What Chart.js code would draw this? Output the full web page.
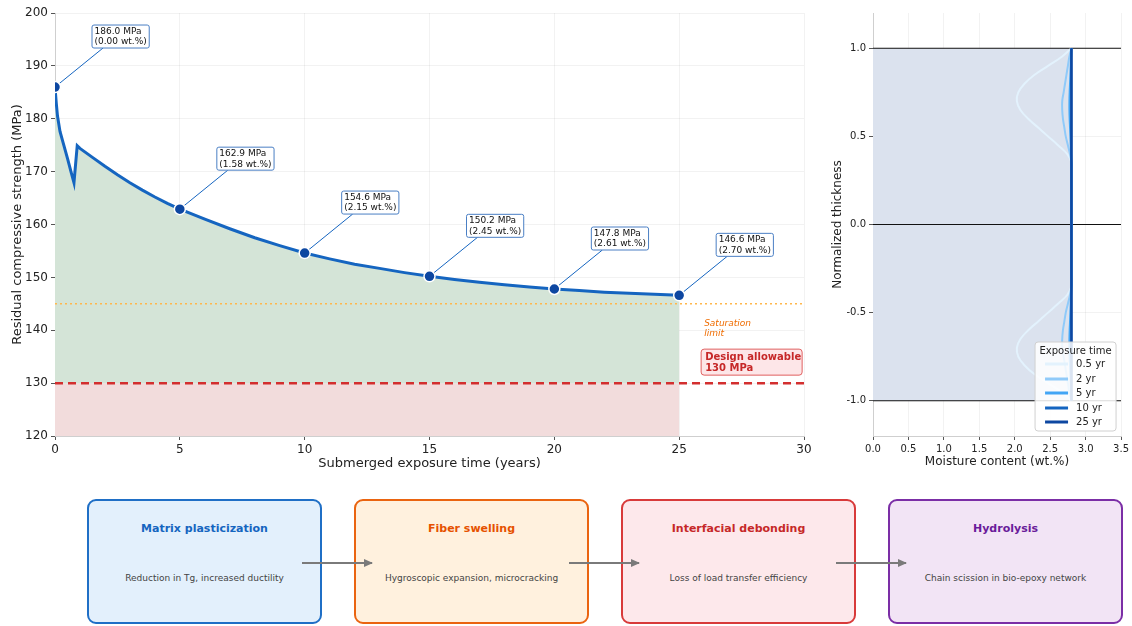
<!DOCTYPE html>
<html><head><meta charset="utf-8">
<script src="https://cdn.jsdelivr.net/npm/chart.js@4.4.0/dist/chart.umd.min.js"></script>
<style>
body{margin:0;background:#fff;width:1132px;height:626px;position:relative;overflow:hidden;font-family:'DejaVu Sans',sans-serif;}
#c1{position:absolute;left:0;top:0;}
#c2{position:absolute;left:820px;top:0;}
.box{position:absolute;top:499px;width:235px;height:125px;border:2px solid;border-radius:9px;box-sizing:border-box;text-align:center;}
.box .t{position:absolute;left:0;right:0;top:21px;font-size:11px;font-weight:bold;}
.box .d{position:absolute;left:0;right:0;top:72px;font-size:9px;color:#444;}
svg{position:absolute;left:0;top:0;}
</style></head>
<body>
<canvas id="c1" width="820" height="475"></canvas>
<canvas id="c2" width="312" height="475"></canvas>
<div class="box" style="left:87px;border-color:#1f6fc6;background:#e3f0fc;"><div class="t" style="color:#1565c0">Matrix plasticization</div><div class="d">Reduction in Tg, increased ductility</div></div>
<div class="box" style="left:354px;border-color:#ea6410;background:#fff1de;"><div class="t" style="color:#e65100">Fiber swelling</div><div class="d">Hygroscopic expansion, microcracking</div></div>
<div class="box" style="left:621px;border-color:#d83a3a;background:#fde8eb;"><div class="t" style="color:#c62828">Interfacial debonding</div><div class="d">Loss of load transfer efficiency</div></div>
<div class="box" style="left:888px;border-color:#7b2ea6;background:#f2e4f5;"><div class="t" style="color:#6a1b9a">Hydrolysis</div><div class="d">Chain scission in bio-epoxy network</div></div>
<svg width="1132" height="626">
<defs><marker id="ah" markerWidth="9" markerHeight="8" refX="8" refY="4" orient="auto" markerUnits="userSpaceOnUse"><path d="M0,0 L9,4 L0,8 z" fill="#7a7a7a"/></marker></defs>
<line x1="302" y1="563" x2="372" y2="563" stroke="#7a7a7a" stroke-width="2" marker-end="url(#ah)"/>
<line x1="569" y1="563" x2="639" y2="563" stroke="#7a7a7a" stroke-width="2" marker-end="url(#ah)"/>
<line x1="836" y1="563" x2="906" y2="563" stroke="#7a7a7a" stroke-width="2" marker-end="url(#ah)"/>
</svg>
<script>
// ---------- data: main chart ----------
const curveT = [0,0.05,0.1,0.2,0.33,0.5,0.65,0.76,0.89,1.0,1.5,2,2.5,3,3.5,4,4.5,5,6,7,8,9,10,11,12,13,14,15,16,17,18,19,20,21,22,23,24,25];
const curveS = [186.0,183.0,180.5,177.6,175.4,172.5,169.8,167.9,174.9,174.4,172.7,171.0,169.4,167.9,166.5,165.2,164.0,162.9,161.0,159.2,157.5,156.0,154.6,153.5,152.5,151.7,150.9,150.2,149.6,149.1,148.6,148.2,147.8,147.5,147.2,147.0,146.8,146.6];
const markerT = [0,5,10,15,20,25];
const markerS = [186.0,162.9,154.6,150.2,147.8,146.6];
const markerM = [0.00,1.58,2.15,2.45,2.61,2.70];
const designAllowable = 130;
const saturationLevel = 145;
const xTicksMain = [0,5,10,15,20,25,30];
const yTicksMain = [120,130,140,150,160,170,180,190,200];

// ---------- data: moisture profiles ----------
const thickness = [1.0,0.95,0.9,0.85,0.8,0.75,0.7,0.65,0.6,0.55,0.5,0.45,0.4,0.35,0.3,0.0,-0.3,-0.35,-0.4,-0.45,-0.5,-0.55,-0.6,-0.65,-0.7,-0.75,-0.8,-0.85,-0.9,-0.95,-1.0];
const prof05 = [2.80,2.66,2.47,2.28,2.14,2.05,2.03,2.08,2.19,2.33,2.47,2.61,2.74,2.80,2.80,2.80,2.80,2.80,2.74,2.61,2.47,2.33,2.19,2.08,2.03,2.05,2.14,2.28,2.47,2.66,2.80];
const prof2  = [2.80,2.77,2.75,2.73,2.71,2.69,2.67,2.67,2.68,2.70,2.72,2.75,2.78,2.80,2.80,2.80,2.80,2.80,2.78,2.75,2.72,2.70,2.68,2.67,2.67,2.69,2.71,2.73,2.75,2.77,2.80];
const prof5  = [2.80,2.795,2.79,2.785,2.78,2.775,2.772,2.772,2.775,2.78,2.785,2.79,2.795,2.80,2.80,2.80,2.80,2.80,2.795,2.79,2.785,2.78,2.775,2.772,2.772,2.775,2.78,2.785,2.79,2.795,2.80];
const prof10 = [2.80,2.80,2.80,2.80,2.80,2.80,2.80,2.80,2.80,2.80,2.80,2.80,2.80,2.80,2.80,2.80,2.80,2.80,2.80,2.80,2.80,2.80,2.80,2.80,2.80,2.80,2.80,2.80,2.80,2.80,2.80];
const prof25 = [2.80,2.80,2.80,2.80,2.80,2.80,2.80,2.80,2.80,2.80,2.80,2.80,2.80,2.80,2.80,2.80,2.80,2.80,2.80,2.80,2.80,2.80,2.80,2.80,2.80,2.80,2.80,2.80,2.80,2.80,2.80];
const profLabels = ['0.5 yr','2 yr','5 yr','10 yr','25 yr'];
const profColors = ['#e3f2fd','#90caf9','#42a5f5','#1565c0','#0d47a1'];
const profiles = [prof05,prof2,prof5,prof10,prof25];
const refLevels = [1,0,-1];
const xTicksProf = [0,0.5,1,1.5,2,2.5,3,3.5];
const yTicksProf = [-1,-0.5,0,0.5,1];

const FONT = "'DejaVu Sans', sans-serif";
Chart.defaults.font.family = FONT;
Chart.defaults.color = '#222';
Chart.defaults.animation = false;

function rrect(ctx,x,y,w,h,r){ctx.beginPath();ctx.moveTo(x+r,y);ctx.lineTo(x+w-r,y);ctx.quadraticCurveTo(x+w,y,x+w,y+r);ctx.lineTo(x+w,y+h-r);ctx.quadraticCurveTo(x+w,y+h,x+w-r,y+h);ctx.lineTo(x+r,y+h);ctx.quadraticCurveTo(x,y+h,x,y+h-r);ctx.lineTo(x,y+r);ctx.quadraticCurveTo(x,y,x+r,y);ctx.closePath();}

const annot = {
  id:'annot',
  beforeDatasetsDraw(chart){
    const ctx=chart.ctx, xs=chart.scales.x, ys=chart.scales.y;
    ctx.save(); ctx.strokeStyle='#1565c0'; ctx.lineWidth=1;
    markerT.forEach((t,i)=>{
      const px=xs.getPixelForValue(t), py=ys.getPixelForValue(markerS[i]);
      ctx.beginPath(); ctx.moveTo(px,py); ctx.lineTo(px+48,py-39); ctx.stroke();
    });
    ctx.restore();
  },
  afterDatasetsDraw(chart){
    const ctx=chart.ctx, xs=chart.scales.x, ys=chart.scales.y;
    ctx.save();
    ctx.font='9px '+FONT; ctx.textBaseline='middle'; ctx.textAlign='left';
    markerT.forEach((t,i)=>{
      const px=xs.getPixelForValue(t), py=ys.getPixelForValue(markerS[i]);
      const l1=markerS[i].toFixed(1)+' MPa', l2='('+markerM[i].toFixed(2)+' wt.%)';
      const w=Math.max(ctx.measureText(l1).width,ctx.measureText(l2).width)+5;
      const bx=px+37, by=py-39-23;
      rrect(ctx,bx,by,w,23,2); ctx.fillStyle='#fff'; ctx.fill();
      ctx.strokeStyle='#4a7fc4'; ctx.lineWidth=1; ctx.stroke();
      ctx.fillStyle='#111'; ctx.fillText(l1,bx+2.5,by+6.5); ctx.fillText(l2,bx+2.5,by+17);
    });
    // saturation label
    const sx=xs.getPixelForValue(26), sy=ys.getPixelForValue(saturationLevel);
    ctx.font='italic 9px '+FONT; ctx.fillStyle='#ef6c00';
    ctx.fillText('Saturation',sx,sy+20); ctx.fillText('limit',sx,sy+30);
    // design allowable box
    const dy=ys.getPixelForValue(designAllowable);
    const bx=sx-3, by=dy-34;
    rrect(ctx,bx,by,101,26,3); ctx.fillStyle='#fde6e8'; ctx.fill();
    ctx.strokeStyle='#e06060'; ctx.lineWidth=1; ctx.stroke();
    ctx.font='bold 10px '+FONT; ctx.fillStyle='#c62828';
    ctx.fillText('Design allowable',bx+4,by+8); ctx.fillText(designAllowable+' MPa',bx+4,by+19);
    ctx.restore();
  }
};

const tickFont12={size:12,family:FONT};
new Chart(document.getElementById('c1'),{
  type:'line',
  data:{datasets:[
    {label:'markers',data:markerT.map((t,i)=>({x:t,y:markerS[i]})),showLine:false,pointRadius:5.5,pointBackgroundColor:'#0d47a1',pointBorderColor:'#fff',pointBorderWidth:1.5,order:0},
    {label:'strength',data:curveT.map((t,i)=>({x:t,y:curveS[i]})),borderColor:'#1565c0',borderWidth:3,pointRadius:0,tension:0,fill:{value:designAllowable},backgroundColor:'#d4e4d7',order:1},
    {label:'design',data:[{x:xTicksMain[0],y:designAllowable},{x:xTicksMain[xTicksMain.length-1],y:designAllowable}],borderColor:'#d32f2f',borderWidth:2.5,borderDash:[8,5],pointRadius:0,fill:false,order:2},
    {label:'saturation',data:[{x:xTicksMain[0],y:saturationLevel},{x:xTicksMain[xTicksMain.length-1],y:saturationLevel}],borderColor:'#ffb74d',borderWidth:1.5,borderDash:[2,3],pointRadius:0,fill:false,order:3},
    {label:'below',data:[{x:markerT[0],y:designAllowable},{x:markerT[markerT.length-1],y:designAllowable}],borderWidth:0,pointRadius:0,fill:'start',backgroundColor:'#f2dcdc',order:4}
  ]},
  options:{
    responsive:false,
    layout:{padding:{left:0,right:16,top:13,bottom:0}},
    plugins:{legend:{display:false},tooltip:{enabled:false},filler:{drawTime:'beforeDatasetsDraw'}},
    scales:{
      x:{type:'linear',min:0,max:30,afterBuildTicks:s=>{s.ticks=xTicksMain.map(v=>({value:v}));},
        ticks:{font:tickFont12,color:'#222',maxRotation:0,padding:3},
        grid:{color:'rgba(0,0,0,0.05)',tickColor:'#555',tickLength:4},
        border:{color:'#cfcfcf',width:1},
        title:{display:true,text:'Submerged exposure time (years)',font:{size:13,family:FONT},color:'#222',padding:{top:0,bottom:4}},
        afterFit:s=>{s.height=39;}},
      y:{type:'linear',min:120,max:200,afterBuildTicks:s=>{s.ticks=yTicksMain.map(v=>({value:v}));},
        ticks:{font:tickFont12,color:'#222',padding:3},
        grid:{color:'rgba(0,0,0,0.05)',tickColor:'#555',tickLength:4},
        border:{color:'#cfcfcf',width:1},
        title:{display:true,text:'Residual compressive strength (MPa)',font:{size:13,family:FONT},color:'#222',padding:{top:10,bottom:0}},
        afterFit:s=>{s.width=55;}}
    }
  },
  plugins:[annot]
});

// ---------- profile chart ----------
const legendPlugin = {
  id:'profLegend',
  afterDraw(chart){
    const ctx=chart.ctx, a=chart.chartArea;
    const w=81,h=89,x=a.right-5-w,y=a.bottom-5-h;
    ctx.save();
    rrect(ctx,x,y,w,h,3); ctx.fillStyle='rgba(255,255,255,0.85)'; ctx.fill();
    ctx.strokeStyle='#d0d0d0'; ctx.lineWidth=1; ctx.stroke();
    ctx.font='10px '+FONT; ctx.textBaseline='middle'; ctx.textAlign='center'; ctx.fillStyle='#222';
    ctx.fillText('Exposure time',x+w/2,y+9);
    ctx.textAlign='left';
    const offs=[22,37,51,66,80];
    profLabels.forEach((lab,i)=>{
      ctx.strokeStyle=profColors[i]; ctx.lineWidth=3;
      ctx.beginPath(); ctx.moveTo(x+10,y+offs[i]); ctx.lineTo(x+33,y+offs[i]); ctx.stroke();
      ctx.fillStyle='#222'; ctx.fillText(lab,x+41,y+offs[i]);
    });
    ctx.restore();
  }
};
const profDatasets = [];
profiles.forEach((p,i)=>{
  profDatasets.push({label:profLabels[i],data:thickness.map((z,k)=>({x:p[k],y:z})),borderColor:profColors[i],borderWidth:i===4?2.5:2,pointRadius:0,tension:0.4,fill:false,order:10-i});
});
refLevels.forEach((r,i)=>{
  profDatasets.push({label:'ref'+i,data:[{x:xTicksProf[0],y:r},{x:xTicksProf[xTicksProf.length-1],y:r}],borderColor:'#111',borderWidth:1,pointRadius:0,fill:false,order:20});
});
profDatasets.push({label:'area',data:[{x:0,y:thickness[0]},{x:prof25[0],y:thickness[0]}],borderWidth:0,pointRadius:0,fill:{value:thickness[thickness.length-1]},backgroundColor:'rgb(219,226,238)',order:30});

new Chart(document.getElementById('c2'),{
  type:'line',
  data:{datasets:profDatasets},
  options:{
    responsive:false,
    layout:{padding:{left:0,right:9,top:13,bottom:0}},
    plugins:{legend:{display:false},tooltip:{enabled:false},filler:{drawTime:'beforeDatasetsDraw'}},
    scales:{
      x:{type:'linear',min:0,max:3.5,afterBuildTicks:s=>{s.ticks=xTicksProf.map(v=>({value:v}));},
        ticks:{font:{size:10,family:FONT},color:'#222',maxRotation:0,padding:3,callback:v=>v.toFixed(1)},
        grid:{color:'rgba(0,0,0,0.05)',tickColor:'#555',tickLength:4},
        border:{color:'#cfcfcf',width:1},
        title:{display:true,text:'Moisture content (wt.%)',font:{size:12,family:FONT},color:'#222',padding:{top:0,bottom:6}},
        afterFit:s=>{s.height=39;}},
      y:{type:'linear',min:-1.2,max:1.2,afterBuildTicks:s=>{s.ticks=yTicksProf.map(v=>({value:v}));},
        ticks:{font:{size:10,family:FONT},color:'#222',padding:3,callback:v=>v.toFixed(1)},
        grid:{color:'rgba(0,0,0,0.05)',tickColor:'#555',tickLength:4},
        border:{color:'#cfcfcf',width:1},
        title:{display:true,text:'Normalized thickness',font:{size:12,family:FONT},color:'#222',padding:{top:11,bottom:0}},
        afterFit:s=>{s.width=53;}}
    }
  },
  plugins:[legendPlugin]
});
</script>
</body></html>
